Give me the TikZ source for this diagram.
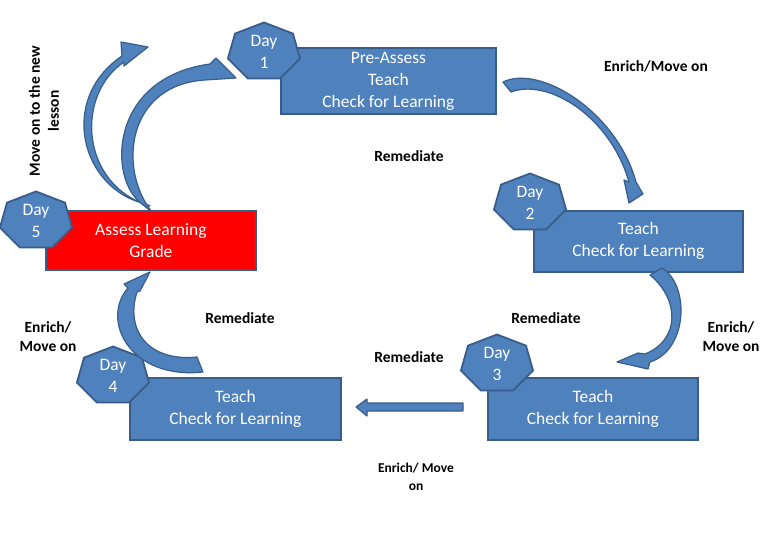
\documentclass[tikz,border=0pt]{standalone}
\usepackage{fontspec}
\setmainfont{Carlito}
\definecolor{blu}{HTML}{4F81BD}
\definecolor{bord}{HTML}{385D8A}
\definecolor{redbox}{HTML}{FF0000}
\newcommand\dayhept[4]{%
  \begin{scope}[shift={(#2,#3)},x=37pt,y=29.5pt]
    \draw[heptst] (90:1) \foreach \k in {1,...,6}{ -- ({90+\k*360/7}:1)} -- cycle;
  \end{scope}
  \node[daytext] (#1) at (#2,#3) {Day\\#4};
}
\begin{document}
\begin{tikzpicture}[x=1pt,y=-1pt,
  boxst/.style={draw=bord,fill=blu,line width=1.8pt,text=white,align=center,
    font=\fontsize{17.5}{22}\selectfont,inner sep=0pt,anchor=north west},
  heptst/.style={draw=bord,fill=blu,line width=1.8pt},
  daytext/.style={text=white,align=center,font=\fontsize{17.5}{22}\selectfont,inner sep=0pt},
  lbl/.style={align=center,font=\bfseries\fontsize{15.5}{19}\selectfont,inner sep=0pt},
  blockarrow/.style={draw=bord,fill=blu,line width=1.2pt,line join=round}]
\useasboundingbox (0,0) rectangle (780,540);
\fill[white] (0,0) rectangle (780,540);

% boxes
\node[boxst,minimum width=215pt,minimum height=66pt] (pre) at (280,47) {Pre-Assess\\Teach\\Check for Learning};
\node[boxst,minimum width=209pt,minimum height=61pt] (t2) at (533,210) {Teach\\Check for Learning};
\node[boxst,minimum width=210pt,minimum height=62pt] (t3) at (487,377) {Teach\\Check for Learning};
\node[boxst,minimum width=211pt,minimum height=62pt] (t4) at (129,377) {Teach\\Check for Learning};
\node[boxst,fill=redbox,minimum width=210pt,minimum height=59pt] (as) at (45,210) {Assess Learning\\Grade};

% day heptagons
\dayhept{d1}{264}{52}{1}
\dayhept{d2}{530}{203}{2}
\dayhept{d3}{497}{364}{3}
\dayhept{d4}{113}{376}{4}
\dayhept{d5}{36}{221}{5}

% labels
\node[lbl] (l1) at (656,66) {Enrich/Move on};
\node[lbl] (l2) at (409,156) {Remediate};
\node[lbl] (l3) at (240,318) {Remediate};
\node[lbl] (l4) at (546,318) {Remediate};
\node[lbl] (l5) at (409,357) {Remediate};
\node[lbl] (l6) at (48,337) {Enrich/\\Move on};
\node[lbl] (l7) at (731,337) {Enrich/\\Move on};
\node[lbl,font=\bfseries\fontsize{13.5}{18}\selectfont] (l8) at (416,477) {Enrich/ Move\\on};
\node[lbl,rotate=90] (l9) at (44,111) {Move on to the new\\lesson};

% block arrows
% A: outer left, Day 5 -> new lesson
\draw[blockarrow] (146,204) .. controls (82,190) and (57,100) .. (122,56)
  -- (121,42) -- (148,47) -- (124,66) -- (124,62)
  .. controls (75,95) and (80,185) .. (150,206) -- cycle;
% B: inner left, Assess -> Day 1
\draw[blockarrow] (142,204) .. controls (108,180) and (108,78) .. (210,64)
  -- (216,58) -- (236,78) -- (205,80)
  .. controls (126,85) and (118,170) .. (152,212) -- cycle;
% C: Pre-Assess -> Day 2
\draw[blockarrow] (503,82) .. controls (540,64) and (617,112) .. (636,182)
  -- (643,194) -- (629,203) -- (624,180) -- (629,182)
  .. controls (610,116) and (548,78) .. (511,92) -- cycle;
% D: Day 2 -> Day 3
\draw[blockarrow] (650,275) -- (662,268) .. controls (690,285) and (688,350) .. (650,362)
  -- (648,369) -- (617,362) -- (638,353) -- (645,354)
  .. controls (680,340) and (680,300) .. (650,275) -- cycle;
% E: Day 4 -> Assess
\draw[blockarrow] (150,272) -- (140,291) -- (137,292)
  .. controls (125,330) and (148,362) .. (197,357) -- (203,372)
  .. controls (130,380) and (100,320) .. (128,288) -- (124,284) -- cycle;
% F: Day 3 -> Day 4
\draw[blockarrow] (463,403) -- (367,403) -- (367,399) -- (356,407) -- (367,416)
  -- (367,411) -- (463,411) -- cycle;
\end{tikzpicture}
\end{document}
